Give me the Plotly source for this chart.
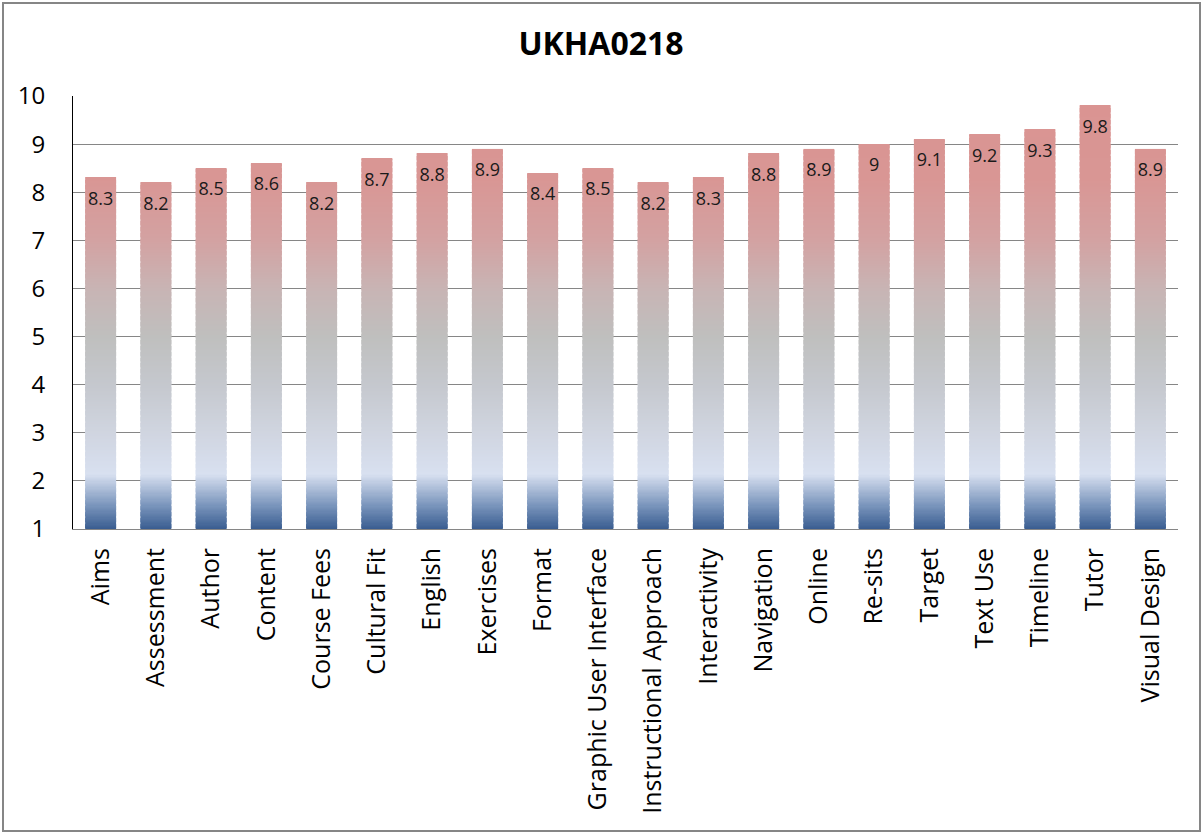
import numpy as np
import plotly.graph_objects as go

categories = ["Aims", "Assessment", "Author", "Content", "Course Fees", "Cultural Fit",
              "English", "Exercises", "Format", "Graphic User Interface",
              "Instructional Approach", "Interactivity", "Navigation", "Online",
              "Re-sits", "Target", "Text Use", "Timeline", "Tutor", "Visual Design"]
values = [8.3, 8.2, 8.5, 8.6, 8.2, 8.7, 8.8, 8.9, 8.4, 8.5,
          8.2, 8.3, 8.8, 8.9, 9.0, 9.1, 9.2, 9.3, 9.8, 8.9]
value_labels = ["8.3", "8.2", "8.5", "8.6", "8.2", "8.7", "8.8", "8.9", "8.4", "8.5",
                "8.2", "8.3", "8.8", "8.9", "9", "9.1", "9.2", "9.3", "9.8", "8.9"]
title_text = "UKHA0218"

AXIS_MIN, AXIS_MAX = 1, 10
FONT = "Open Sans"

# gradient stops (value position, rgb) used to style the bar fill
stops = [
    (1.0, (56, 92, 144)),
    (1.5, (122, 149, 188)),
    (2.15, (216, 224, 240)),
    (3.0, (208, 213, 224)),
    (4.0, (197, 200, 206)),
    (5.0, (191, 191, 190)),
    (6.0, (200, 180, 180)),
    (7.0, (211, 162, 162)),
    (8.3, (217, 150, 148)),
    (10.0, (218, 148, 146)),
]
sp = np.array([s[0] for s in stops])
sc = np.array([s[1] for s in stops], dtype=float)


def color_at(v):
    r = np.interp(v, sp, sc[:, 0])
    g = np.interp(v, sp, sc[:, 1])
    b = np.interp(v, sp, sc[:, 2])
    return f"rgb({int(round(r))},{int(round(g))},{int(round(b))})"


step = 0.025
xs, bases, heights, cols = [], [], [], []
for cat, val in zip(categories, values):
    b = AXIS_MIN
    while b < val - 1e-9:
        h = min(step, val - b)
        xs.append(cat)
        bases.append(b)
        heights.append(h + (0.004 if b + h < val - 1e-9 else 0))
        cols.append(color_at(b + h / 2))
        b += step

fig = go.Figure()
fig.add_trace(go.Bar(
    x=xs, y=heights, base=bases, width=0.56,
    marker=dict(color=cols, line=dict(width=0)),
    hoverinfo="skip", showlegend=False,
))
fig.add_trace(go.Bar(
    x=categories, y=[v - AXIS_MIN for v in values], base=AXIS_MIN, width=0.56,
    marker=dict(color="rgba(0,0,0,0)", line=dict(width=0)),
    showlegend=False, hovertemplate="%{x}: %{customdata}<extra></extra>",
    customdata=values,
))
fig.add_trace(go.Scatter(
    x=categories, y=[v - 0.47 for v in values], mode="text",
    text=value_labels, textposition="middle center",
    textfont=dict(family=FONT, size=18, color="#1a1a1a"),
    showlegend=False, hoverinfo="skip",
))

fig.update_layout(
    width=1204, height=834,
    margin=dict(l=73, r=26, t=96, b=305, autoexpand=False),
    paper_bgcolor="white", plot_bgcolor="white",
    barmode="overlay",
    title=dict(text=f"<b>{title_text}</b>", x=601 / 1204, xref="container", xanchor="center",
               y=1 - 44 / 834, yref="container", yanchor="middle",
               font=dict(family=FONT, size=32, color="black")),
    font=dict(family=FONT, color="black"),
    xaxis=dict(
        type="category", categoryorder="array", categoryarray=categories,
        range=[-0.5, len(categories) - 0.5],
        tickangle=-90, tickfont=dict(family=FONT, size=25, color="black"),
        showline=True, linecolor="#868686", linewidth=1,
        showgrid=False, ticks="", ticklabelstandoff=8, automargin=False,
    ),
    yaxis=dict(
        range=[AXIS_MIN, AXIS_MAX], dtick=1, tick0=0,
        tickfont=dict(family=FONT, size=24, color="black"),
        showline=True, linecolor="black", linewidth=1,
        showgrid=True, gridcolor="#868686", gridwidth=1,
        zeroline=False, ticks="", ticklabelstandoff=22, automargin=False,
    ),
    shapes=[dict(
        type="rect", xref="paper", yref="paper",
        x0=(3 - 73) / 1105, x1=(1200 - 73) / 1105,
        y0=(529 - 831) / 433, y1=(529 - 3) / 433,
        line=dict(color="#868686", width=2), fillcolor="rgba(0,0,0,0)",
        layer="below",
    )],
)

fig.write_html(
    "out.html",
    config={"displayModeBar": False},
    post_script="document.body.style.margin='0';document.body.style.overflow='hidden';",
)
